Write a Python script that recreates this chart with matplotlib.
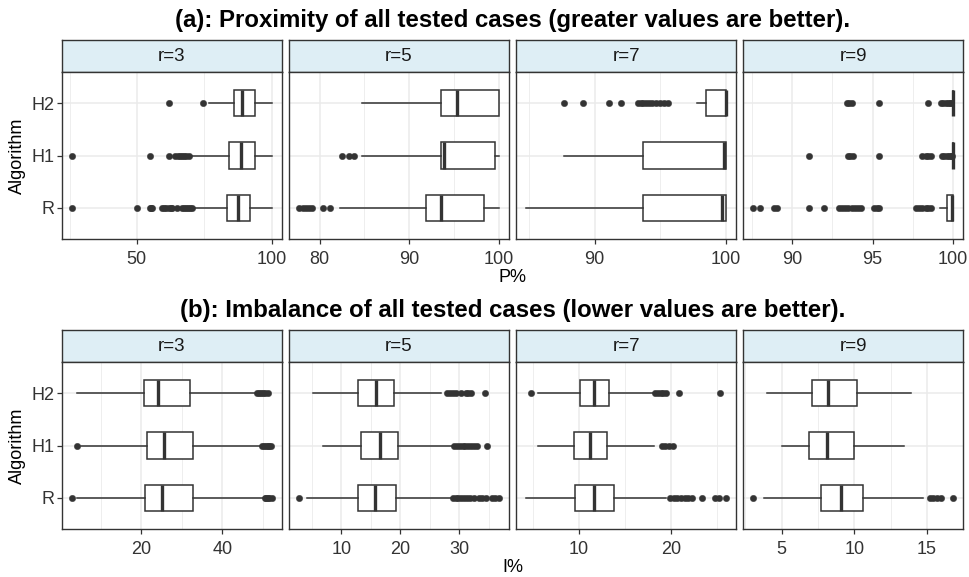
import matplotlib
matplotlib.use("Agg")
from matplotlib import pyplot as plt

plt.rc("font", family=["Liberation Sans", "DejaVu Sans"])

W, H = 969, 577

algorithms = ["R", "H1", "H2"]
radii = ["r=3", "r=5", "r=7", "r=9"]

# box summaries per algorithm (R, H1, H2): whisker low, Q1, median, Q3, whisker high
prox_r3 = [[71.0, 83.5, 87.5, 92.1, 100.0],
           [69.9, 84.1, 88.8, 93.7, 100.0],
           [76.7, 86.2, 89.1, 93.7, 100.0]]
prox_r3_out = [[25.8, 50.1, 54.7, 55.2, 55.7, 59.4, 60.2, 61.0, 61.8, 62.5, 63.1, 64.9, 66.8, 67.5, 68.2, 69.0, 69.8, 70.5],
               [25.8, 54.7, 62.1, 64.3, 65.2, 66.0, 66.8, 67.6, 68.4, 69.3],
               [62.1, 74.6]]

prox_r5 = [[82.3, 91.9, 93.6, 98.4, 100.0],
           [84.7, 93.5, 93.9, 99.6, 100.0],
           [84.7, 93.6, 95.3, 100.0, 100.0]]
prox_r5_out = [[77.7, 78.2, 78.5, 78.8, 79.1, 80.4, 81.2],
               [82.5, 83.3, 83.8],
               []]

prox_r7 = [[84.8, 93.7, 99.7, 100.0, 100.0],
           [87.7, 93.7, 99.85, 100.0, 100.0],
           [97.8, 98.5, 99.97, 100.0, 100.0]]
prox_r7_out = [[], [],
               [87.66, 89.1, 91.1, 92.0, 93.3, 93.5, 93.7, 93.9, 94.1, 94.4, 94.7, 95.0, 95.3, 95.55]]

prox_r9 = [[99.2, 99.6, 99.95, 100.0, 100.0],
           [100.0, 99.97, 100.0, 100.0, 100.0],
           [100.0, 99.97, 100.0, 100.0, 100.0]]
prox_r9_out = [[87.6, 88.0, 88.9, 89.05, 91.05, 92.0, 92.9, 93.1, 93.3, 93.5, 93.7, 93.9, 94.1, 94.3,
                95.1, 95.25, 95.4, 97.7, 97.9, 98.1, 98.3, 98.45, 98.6],
               [91.05, 93.45, 93.6, 93.8, 95.4, 98.1, 98.3, 98.45, 98.6,
                99.3, 99.45, 99.6, 99.75, 99.85, 99.92],
               [93.4, 93.55, 93.7, 95.4, 98.45, 99.25, 99.4, 99.55, 99.7, 99.8, 99.9]]

imb_r3 = [[4.2, 21.0, 25.0, 32.8, 50.1],
          [5.0, 21.4, 25.5, 32.8, 49.6],
          [4.2, 20.6, 24.0, 31.9, 48.3]]
imb_r3_out = [[2.8, 50.4, 50.8, 51.2, 51.6, 52.1],
              [4.0, 49.7, 50.2, 50.7, 51.2, 51.6, 52.0],
              [48.6, 49.1, 49.6, 50.1, 50.6, 51.2]]

imb_r5 = [[4.1, 12.8, 15.7, 19.3, 28.6],
          [6.8, 13.4, 16.5, 19.7, 28.8],
          [5.1, 12.9, 15.8, 19.0, 27.0]]
imb_r5_out = [[2.8, 28.9, 29.4, 29.9, 30.4, 30.9, 31.4, 31.9, 32.5, 33.4, 33.9, 34.5, 35.6, 36.1, 36.75],
              [29.15, 29.6, 30.1, 30.6, 31.0, 31.5, 32.0, 32.5, 33.1, 34.8],
              [28.0, 28.5, 29.0, 29.4, 30.4, 31.2, 31.6, 32.0, 34.4]]

imb_r7 = [[4.3, 9.6, 11.6, 13.8, 19.5],
          [5.6, 9.5, 11.2, 13.1, 18.2],
          [5.6, 10.1, 11.7, 13.3, 18.1]]
imb_r7_out = [[19.9, 20.3, 20.7, 21.1, 21.5, 21.9, 22.3, 23.35, 24.8, 25.2, 26.0],
              [19.0, 19.4, 19.8, 20.25],
              [4.8, 18.26, 18.6, 18.9, 19.2, 19.5, 20.9, 25.35]]

imb_r9 = [[3.8, 7.7, 9.1, 10.6, 14.7],
          [5.0, 6.9, 8.1, 10.0, 13.4],
          [4.0, 7.1, 8.2, 10.2, 13.9]]
imb_r9_out = [[3.05, 15.2, 15.45, 15.7, 16.0, 16.8],
              [],
              []]

prox_ticks = [[50, 100], [80, 90, 100], [90, 100], [90, 95, 100]]
prox_minor = [[25, 75], [75, 85, 95], [85, 95], [87.5, 92.5, 97.5]]
imb_ticks = [[20, 40], [10, 20, 30], [10, 20], [5, 10, 15]]
imb_minor = [[0, 10, 30, 50], [5, 15, 25, 35], [5, 15, 25], [2.5, 7.5, 12.5]]

rows = [
    dict(stats=[prox_r3, prox_r5, prox_r7, prox_r9],
         out=[prox_r3_out, prox_r5_out, prox_r7_out, prox_r9_out],
         ticks=prox_ticks, minor=prox_minor,
         title="(a): Proximity of all tested cases (greater values are better).",
         xlabel="P%", top=40),
    dict(stats=[imb_r3, imb_r5, imb_r7, imb_r9],
         out=[imb_r3_out, imb_r5_out, imb_r7_out, imb_r9_out],
         ticks=imb_ticks, minor=imb_minor,
         title="(b): Imbalance of all tested cases (lower values are better).",
         xlabel="I%", top=330),
]

dark = "#333333"
grid = "#EBEBEB"
strip_fill = "#DEEEF5"

fig = plt.figure(figsize=(W / 100, H / 100), dpi=100)

lefts = [61.7, 289.0, 516.3, 743.3]
pw = 219.8
strip_h = 32.0
plot_h = 167.0


def fx(px):
    return px / W


def fy(px):
    return 1 - px / H


for row in rows:
    top = row["top"]
    for k in range(4):
        left = lefts[k]
        sax = fig.add_axes([fx(left), fy(top + strip_h), pw / W, strip_h / H])
        sax.set_facecolor(strip_fill)
        sax.set_xticks([])
        sax.set_yticks([])
        for sp in sax.spines.values():
            sp.set_color(dark)
            sp.set_linewidth(1.0)
        sax.text(0.5, 0.47, radii[k], ha="center", va="center",
                 fontsize=13.5, color="#1A1A1A", transform=sax.transAxes)

        ax = fig.add_axes([fx(left), fy(top + strip_h + plot_h), pw / W, plot_h / H])
        stats = row["stats"][k]
        outs = row["out"][k]
        bx = []
        for i, s in enumerate(stats):
            bx.append(dict(whislo=s[0], q1=s[1], med=s[2], q3=s[3], whishi=s[4],
                           fliers=outs[i], label=algorithms[i]))
        ax.bxp(bx, positions=[1, 2, 3], widths=0.5, orientation="horizontal",
               showcaps=False, patch_artist=True,
               boxprops=dict(facecolor="white", edgecolor=dark, linewidth=1.1),
               whiskerprops=dict(color=dark, linewidth=1.1),
               medianprops=dict(color=dark, linewidth=2.4),
               flierprops=dict(marker="o", markerfacecolor=dark, markeredgecolor=dark,
                               markersize=4.6, markeredgewidth=0.3))

        vals = [v for s in stats for v in s] + [v for o in outs for v in o]
        lo, hi = min(vals), max(vals)
        pad = 0.05 * (hi - lo)
        ax.set_xlim(lo - pad, hi + pad)
        ax.set_ylim(0.4, 3.6)
        ax.set_xticks(row["ticks"][k])
        ax.set_xticks([m for m in row["minor"][k] if lo - pad < m < hi + pad], minor=True)
        ax.set_yticks([1, 2, 3])
        ax.set_axisbelow(True)
        ax.grid(True, which="major", color=grid, linewidth=1.1)
        ax.grid(True, which="minor", axis="x", color=grid, linewidth=0.6)
        ax.tick_params(axis="both", which="major", length=3.5, width=0.9, color=dark,
                       labelsize=13, labelcolor="#333333", pad=2)
        ax.tick_params(axis="x", which="major", pad=5)
        ax.tick_params(axis="x", which="minor", length=0)
        if k == 0:
            ax.set_yticklabels(algorithms)
        else:
            ax.tick_params(axis="y", length=0, labelleft=False)
        for sp in ax.spines.values():
            sp.set_color(dark)
            sp.set_linewidth(1.0)

    fig.text(fx(512.5), fy(top - 20), row["title"], ha="center", va="center",
             fontsize=17.3, fontweight="bold")
    fig.text(fx(512.5), fy(top + strip_h + plot_h + 39), row["xlabel"], ha="center",
             va="center", fontsize=13)
    fig.text(fx(17), fy(top + strip_h + plot_h / 2), "Algorithm", ha="center",
             va="center", rotation=90, fontsize=13)

fig.savefig("out.png", dpi=100)
